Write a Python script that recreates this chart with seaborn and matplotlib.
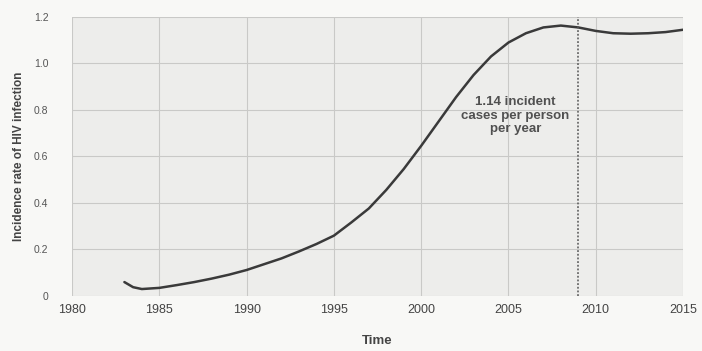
import matplotlib
matplotlib.use("Agg")
import matplotlib.pyplot as plt
import pandas as pd
import seaborn as sns

years = [1983, 1983.5, 1984, 1985, 1986, 1987, 1988, 1989, 1990, 1991, 1992,
         1993, 1994, 1995, 1996, 1997, 1998, 1999, 2000, 2001, 2002, 2003,
         2004, 2005, 2006, 2007, 2008, 2009, 2010, 2011, 2012, 2013, 2014, 2015]
incidence = [0.058, 0.036, 0.028, 0.033, 0.045, 0.058, 0.073, 0.09, 0.11, 0.135,
             0.16, 0.19, 0.222, 0.258, 0.315, 0.375, 0.455, 0.545, 0.645, 0.75,
             0.855, 0.95, 1.03, 1.09, 1.13, 1.155, 1.163, 1.155, 1.14, 1.13,
             1.128, 1.13, 1.135, 1.145]

x_ticks = [1980, 1985, 1990, 1995, 2000, 2005, 2010, 2015]
y_ticks = [0, 0.2, 0.4, 0.6, 0.8, 1.0, 1.2]
y_tick_labels = ["0", "0.2", "0.4", "0.6", "0.8", "1.0", "1.2"]
marker_year = 2009
note = "1.14 incident\ncases per person\nper year"

sns.set_theme(style="whitegrid")
plt.rcParams["font.family"] = ["Liberation Sans", "DejaVu Sans"]

df = pd.DataFrame({"Time": years, "Incidence": incidence})

fig = plt.figure(figsize=(7.02, 3.51), dpi=100, facecolor="#f8f8f6")
ax = fig.add_axes([0.1026, 0.158, 0.8704, 0.7936])
ax.set_facecolor("#ededeb")

sns.lineplot(data=df, x="Time", y="Incidence", ax=ax, color="#3a3a3a",
             linewidth=1.8)
ax.axvline(marker_year, color="#555555", linestyle=(0, (1.2, 1.2)), linewidth=1.1)

ax.set_xlim(1980, 2015)
ax.set_ylim(0, 1.2)
ax.set_xticks(x_ticks)
ax.set_yticks(y_ticks)
ax.set_yticklabels(y_tick_labels)
ax.grid(True, color="#c9c9c7", linewidth=0.8)
for side in ax.spines.values():
    side.set_visible(False)
ax.tick_params(axis="x", labelsize=9, colors="#444444", pad=6, length=0)
ax.tick_params(axis="y", labelsize=7.5, colors="#555555", pad=17, length=0)

ax.set_xlabel("Time", fontsize=9.5, fontweight="bold", color="#444444",
              labelpad=14)
ax.set_ylabel("Incidence rate of HIV infection", fontsize=8.5,
              fontweight="bold", color="#444444", labelpad=6)

ax.text(2005.4, 0.775, note, ha="center", va="center", fontsize=9.5,
        fontweight="bold", color="#505050", linespacing=1.15)

fig.savefig("out.png", dpi=100, facecolor=fig.get_facecolor())
